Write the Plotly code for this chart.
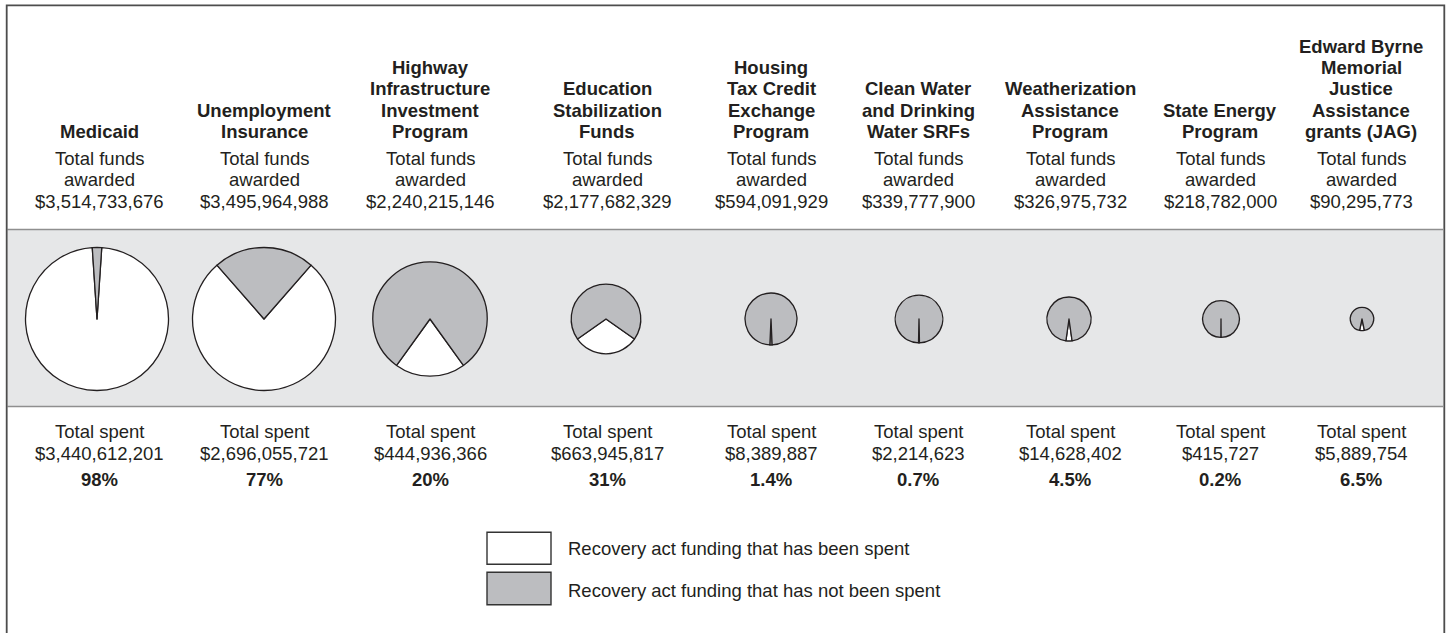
import plotly.graph_objects as go

# Programs, award totals and amounts spent
programs = [
    "Medicaid",
    "Unemployment<br>Insurance",
    "Highway<br>Infrastructure<br>Investment<br>Program",
    "Education<br>Stabilization<br>Funds",
    "Housing<br>Tax Credit<br>Exchange<br>Program",
    "Clean Water<br>and Drinking<br>Water SRFs",
    "Weatherization<br>Assistance<br>Program",
    "State Energy<br>Program",
    "Edward Byrne<br>Memorial<br>Justice<br>Assistance<br>grants (JAG)",
]
awarded = [3514733676, 3495964988, 2240215146, 2177682329, 594091929,
           339777900, 326975732, 218782000, 90295773]
spent = [3440612201, 2696055721, 444936366, 663945817, 8389887,
         2214623, 14628402, 415727, 5889754]
spent_pct = ["98%", "77%", "20%", "31%", "1.4%", "0.7%", "4.5%", "0.2%", "6.5%"]
legend_labels = ["Recovery act funding that has been spent",
                 "Recovery act funding that has not been spent"]

# Layout (pixels)
W, H = 1449, 633
col_x = [99, 264, 430, 607, 771, 918, 1070, 1220, 1361]
pie_x = [97, 264, 430, 606, 771, 919, 1069, 1221, 1362]
pie_r = [71.5, 71.5, 57.2, 34.8, 26, 23.8, 22, 18.3, 11.7]
pie_cy = 319
band_top, band_bot = 229.5, 406.5

WHITE = "#ffffff"
GRAY = "#bcbdc0"
BAND = "#e6e7e8"
INK = "#231f20"
FONT = "Liberation Sans, Arial, sans-serif"
FS = 18.5


def px(x):
    return x / W


def py(y):
    return 1 - y / H


fig = go.Figure()

for i, (a, s) in enumerate(zip(awarded, spent)):
    frac = s / a
    r, cx = pie_r[i], pie_x[i]
    fig.add_trace(go.Pie(
        values=[s, a - s],
        labels=legend_labels,
        sort=False,
        direction="clockwise",
        rotation=180 - 180 * frac,
        marker=dict(colors=[WHITE, GRAY], line=dict(color=INK, width=1.3)),
        textinfo="none",
        hoverinfo="none",
        showlegend=False,
        domain=dict(x=[px(cx - r), px(cx + r)],
                    y=[py(pie_cy + r), py(pie_cy - r)]),
    ))

shapes = [
    # shaded band behind the pies
    dict(type="rect", xref="paper", yref="paper",
         x0=px(7.5), x1=px(1443), y0=py(band_bot), y1=py(band_top),
         fillcolor=BAND, line=dict(width=0), layer="below"),
    dict(type="line", xref="paper", yref="paper",
         x0=px(7.5), x1=px(1443), y0=py(band_top), y1=py(band_top),
         line=dict(color="#8f8f8f", width=1.6)),
    dict(type="line", xref="paper", yref="paper",
         x0=px(7.5), x1=px(1443), y0=py(band_bot), y1=py(band_bot),
         line=dict(color="#8f8f8f", width=1.6)),
    # outer frame (left, top, right)
    dict(type="path", xref="paper", yref="paper",
         path=f"M {px(6.7)} 0 L {px(6.7)} {py(5.3)} L {px(1444.3)} {py(5.3)} L {px(1444.3)} 0",
         line=dict(color="#4d4d4d", width=1.8)),
    # legend swatches
    dict(type="rect", xref="paper", yref="paper",
         x0=px(487), x1=px(551), y0=py(564.3), y1=py(532.3),
         fillcolor=WHITE, line=dict(color="#333333", width=1.4)),
    dict(type="rect", xref="paper", yref="paper",
         x0=px(487), x1=px(551), y0=py(604.7), y1=py(572.3),
         fillcolor=GRAY, line=dict(color="#333333", width=1.4)),
]

annotations = []


def text(x, y, t, bold=False, anchor="center"):
    annotations.append(dict(
        x=px(x), y=py(y), xref="paper", yref="paper",
        text=f"<b>{t}</b>" if bold else t,
        showarrow=False, xanchor=anchor, yanchor="middle",
        font=dict(family=FONT, size=FS, color=INK),
    ))


LINE = 21.3
for i, name in enumerate(programs):
    cx = col_x[i]
    lines = name.split("<br>")
    last = 131.5
    for k, ln in enumerate(lines):
        text(cx, last - (len(lines) - 1 - k) * LINE, ln, bold=True)
    text(cx, 158.5, "Total funds")
    text(cx, 158.5 + LINE, "awarded")
    text(cx, 158.5 + 2 * LINE, f"${awarded[i]:,}")

    text(cx, 431.7, "Total spent")
    text(cx, 453.5, f"${spent[i]:,}")
    text(cx, 479, spent_pct[i], bold=True)

text(566, 548.5, legend_labels[0], anchor="left")
text(566, 590, legend_labels[1], anchor="left")

fig.update_layout(
    width=W, height=H,
    margin=dict(l=0, r=0, t=0, b=0),
    paper_bgcolor="white", plot_bgcolor="white",
    shapes=shapes, annotations=annotations,
    showlegend=False,
)

fig.write_html("out.html")
